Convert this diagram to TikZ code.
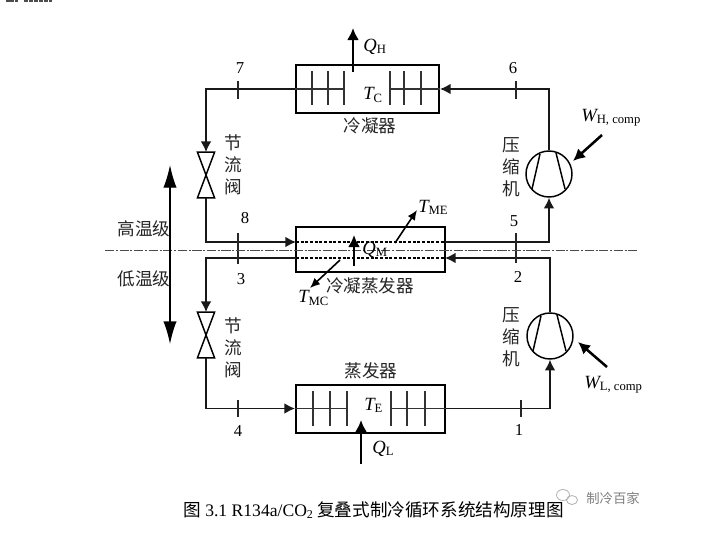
\documentclass[tikz,border=0pt]{standalone}
\usepackage{fontspec}
\setmainfont{Liberation Serif}
\newfontfamily\cjk{Noto Sans CJK SC}
\usetikzlibrary{arrows.meta,calc}
\newcommand{\qty}[2]{{\fontsize{14}{14}\selectfont\itshape #1}\raisebox{-0.35ex}{\fontsize{9.5}{9.5}\selectfont\upshape #2}}
\tikzset{
  vessel/.style={draw,line width=1.5pt,minimum height=36pt,inner sep=0pt},
  pipe/.style={line width=1.1pt,draw=black!90},
  flow/.style={pipe,-{Latex[length=8pt,width=8pt]}},
  fin/.style={line width=0.95pt,draw=black!80},
  heat/.style={line width=2.2pt,-{Latex[length=9pt,width=9pt]}},
  probe/.style={line width=1.2pt,-{Latex[length=7.5pt,width=6.5pt]}},
  machine/.style={circle,draw,line width=1.1pt,minimum size=34.5pt,inner sep=0pt},
  valvebox/.style={minimum width=12.5pt,minimum height=34pt,inner sep=0pt},
  bowtie/.style={line width=1.1pt,line join=miter},
  statenum/.style={font=\fontsize{12.5}{12.5}\selectfont,inner sep=0pt},
  zh/.style={font=\cjk\fontsize{13.2}{13.2}\selectfont,text=black!85,inner sep=0pt},
  zhcol/.style={font=\cjk\fontsize{13.2}{15.5}\selectfont,text=black!85,inner sep=0pt,align=center},
  levelarrow/.style={line width=1pt,-{Latex[length=17pt,width=10pt]}},
  statetick/.style={line width=1.05pt,draw=black!85},
}
\begin{document}
\begin{tikzpicture}[x=0.75pt,y=-0.75pt]
\useasboundingbox (0,0) rectangle (721,546);
\fill[white] (0,0) rectangle (721,546);

% heat exchangers
\node[vessel,minimum width=107.25pt] (cond) at (367.5,89) {};
\node[vessel,minimum width=111.75pt,minimum height=33.75pt] (mid) at (370.5,249.5) {};
\node[vessel,minimum width=111.75pt] (evap) at (370.5,408.5) {};

% compressors
\node[machine] (compH) at (549,174) {};
\node[machine] (compL) at (550,336) {};

% expansion valves
\node[valvebox] (valveH) at (206,175) {};
\node[valvebox] (valveL) at (206,335) {};
\foreach \v in {valveH,valveL}
  \draw[bowtie] (\v.north west) -- (\v.north east) -- (\v.south west) -- (\v.south east) -- cycle;

% compressor blades
\foreach \c in {compH,compL} {
  \draw[line width=1.1pt] ($(\c)+(-9,-20)$) -- ($(\c)+(-17,15)$);
  \draw[line width=1.1pt] ($(\c)+(7,-21)$) -- ($(\c)+(16,15)$);
}

% ports of the intermediate exchanger
\coordinate (midAin)  at (296,242);
\coordinate (midAout) at (445,242);
\coordinate (midBin)  at (445,258);
\coordinate (midBout) at (296,258);

% refrigerant circuit, upper stage
\draw[flow] (compH.north) |- (cond.east);
\draw[flow] (cond.west) -| (valveH.north);
\draw[flow] (valveH.south) |- (midAin);
\draw[flow] (midAout) -| (compH.south);

% refrigerant circuit, lower stage
\draw[flow] (compL.north) |- (midBin);
\draw[flow] (midBout) -| (valveL.north);
\draw[flow] (valveL.south) |- (evap.west);
\draw[flow] (evap.east) -| (compL.south);

% tube bundles
\draw[fin] (cond.west) -- (344,89);
\draw[fin] (390,89) -- (cond.east);
\foreach \x in {312,328,344,390,404,421} \draw[fin] (\x,71) -- (\x,105);
\draw[fin] (evap.west) -- (347,408.5);
\draw[fin] (391,408.5) -- (evap.east);
\foreach \x in {313,330,347,391,407,425} \draw[fin] (\x,391) -- (\x,426);
\draw[line width=0.8pt,dash pattern=on 2.2pt off 1.3pt] (midAin) -- (midAout);
\draw[line width=0.8pt,dash pattern=on 2.2pt off 1.3pt] (midBout) -- (midBin);

% state point ticks
\foreach \x/\a/\b in {238/81/99,516/81/99,238/233/264,516/233/263,238/400/417,521/400/417}
  \draw[statetick] (\x,\a) -- (\x,\b);
\node[statenum] (s7) at (240,68) {7};
\node[statenum] (s6) at (513,68) {6};
\node[statenum] (s8) at (245,218) {8};
\node[statenum] (s5) at (514,221) {5};
\node[statenum] (s3) at (241,279) {3};
\node[statenum] (s2) at (518,277) {2};
\node[statenum] (s4) at (238,431) {4};
\node[statenum] (s1) at (519,430) {1};

% stage divider and stage arrows
\draw[line width=0.6pt,draw=black!70,dash pattern=on 7pt off 1.2pt on 1.5pt off 1.2pt] (105,250.5) -- (637,250.5);
\coordinate (upTip) at (170,165);
\coordinate (downTip) at (170,344);
\coordinate (levelMid) at (170,254);
\draw[levelarrow] (levelMid) -- (upTip);
\draw[levelarrow] (levelMid) -- (downTip);

% heat and work flows
\coordinate (qHa) at (353,72); \coordinate (qHb) at (353,28);
\coordinate (qMa) at (354,266); \coordinate (qMb) at (354,235);
\coordinate (qLa) at (361,464); \coordinate (qLb) at (361,420);
\draw[heat] (qHa) -- (qHb);
\draw[heat] (qMa) -- (qMb);
\draw[heat] (qLa) -- (qLb);
\coordinate (wHa) at (602,135); \coordinate (wHb) at (573,161);
\coordinate (wLa) at (607,367); \coordinate (wLb) at (578,342);
\draw[heat,line width=1.9pt] (wHa) -- (wHb);
\draw[heat,line width=1.9pt] (wLa) -- (wLb);
\coordinate (tEa) at (395,243); \coordinate (tEb) at (417,210);
\coordinate (tCa) at (340,260); \coordinate (tCb) at (310,288);
\draw[probe] (tEa) -- (tEb);
\draw[probe] (tCa) -- (tCb);

% quantity labels
\node[inner sep=0pt,anchor=west] (lQH) at (363,47) {\qty{Q}{H}};
\node[inner sep=0pt,anchor=west] (lTC) at (363,95) {\qty{T}{C}};
\node[inner sep=0pt,anchor=west] (lQM) at (362,250) {\qty{Q}{M}};
\node[inner sep=0pt,anchor=west] (lTME) at (418,207) {\qty{T}{ME}};
\node[inner sep=0pt,anchor=west] (lTMC) at (298,298) {\qty{T}{MC}};
\node[inner sep=0pt,anchor=west] (lTE) at (364,405) {\qty{T}{E}};
\node[inner sep=0pt,anchor=west] (lQL) at (372,449) {\qty{Q}{L}};
\node[inner sep=0pt,anchor=west] (lWH) at (581,118) {\qty{W}{H, comp}};
\node[inner sep=0pt,anchor=west] (lWL) at (584,385) {\qty{W}{L, comp}};

% component names
\node[zh] (nCond) at (370,126) {冷凝器};
\node[zh] (nEvap) at (371,371) {蒸发器};
\node[zh] (nMid) at (370,286) {冷凝蒸发器};
\node[zhcol] (nValveH) at (233,165) {节\\[1pt]流\\[1pt]阀};
\node[zhcol] (nValveL) at (233,348) {节\\[1pt]流\\[1pt]阀};
\node[zhcol] (nCompH) at (511,167) {压\\[1pt]缩\\[1pt]机};
\node[zhcol] (nCompL) at (511,337) {压\\[1pt]缩\\[1pt]机};
\node[zh] (nHigh) at (144,229) {高温级};
\node[zh] (nLow) at (144,279) {低温级};

% caption
\node[inner sep=0pt,anchor=west,font=\fontsize{13.2}{13.2}\selectfont] (caption) at (183,510)
  {{\cjk\fontsize{13.2}{13.2}\selectfont 图} 3.1 R134a/CO\raisebox{-0.3ex}{\fontsize{9}{9}\selectfont 2} {\cjk\fontsize{13.2}{13.2}\selectfont 复叠式制冷循环系统结构原理图}};

% account mark
\node[inner sep=0pt,font=\cjk\fontsize{10}{10}\selectfont,text=black!50] (mark) at (613,498) {制冷百家};
\draw[black!30,line width=0.6pt] (563,495) ellipse [x radius=6.5,y radius=5.5];
\draw[black!30,line width=0.6pt] (572,500) ellipse [x radius=5.5,y radius=4.5];

% fragment of a line along the top edge
\draw[black!70,line width=1.5pt,dash pattern=on 6pt off 1pt] (6,1) -- (18,1);
\draw[black!70,line width=1.5pt,dash pattern=on 3pt off 0.8pt] (24,1) -- (52,1);
\end{tikzpicture}
\end{document}
